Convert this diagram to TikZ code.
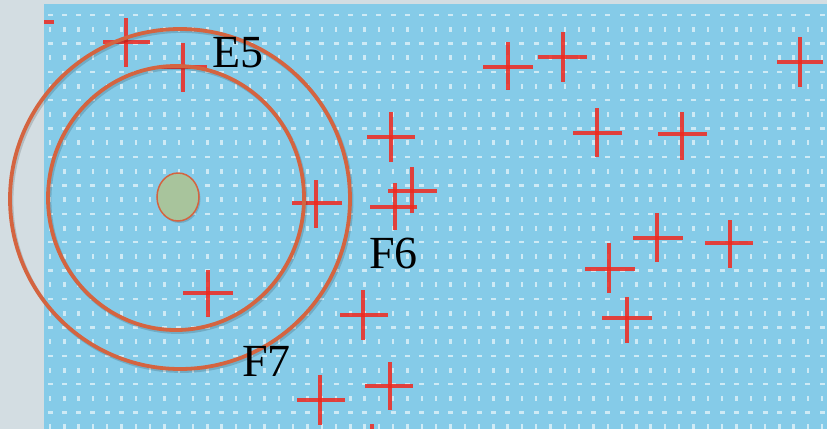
\documentclass[tikz,border=0pt]{standalone}
\usepackage{fontspec}
\setmainfont{Liberation Serif}
\usetikzlibrary{shapes.geometric}
\definecolor{bgblue}{RGB}{133,203,232}
\definecolor{greyside}{RGB}{211,221,226}
\definecolor{ringc}{RGB}{212,100,64}
\definecolor{dotgreen}{RGB}{168,196,156}
\definecolor{crossred}{RGB}{240,40,30}
\newcommand{\rcross}[6]{%
  \draw[crossline] (#1,#3) -- (#2,#3);
  \draw[crossline] (#4,#5) -- (#4,#6);}
\begin{document}
\begin{tikzpicture}[x=1pt,y=-1pt,
  ring/.style={draw=ringc,line width=3.8pt},
  ringshadow/.style={draw=black,opacity=0.15,line width=3.8pt},
  crossline/.style={draw=crossred,line width=4pt,opacity=0.85},
  griddot/.style={fill=white,opacity=0.6},
  lbl/.style={font=\fontsize{46}{46}\selectfont,inner sep=0pt,anchor=base west}]
\useasboundingbox (0,0) rectangle (827,429);
\fill[greyside] (0,0) rectangle (827,429);
\fill[bgblue] (44,4) rectangle (827,429);
% dotted white grid
\foreach \i in {0,...,54}{
  \foreach \k in {0,...,14}{
    \fill[griddot] ({50+14.3*\i-2.5},{15+28.4*\k-1.2}) rectangle ++(5,2.4);
    \fill[griddot] ({50+14.3*\i-1.2},{29.2+28.4*\k-2.5}) rectangle ++(2.4,5);
  }
}
% red crosses
\rcross{103}{150}{42}{126}{18}{67}
\rcross{160}{207}{67}{183}{43}{92}
\rcross{483}{533}{67}{508}{42}{90}
\rcross{538}{587}{57}{563}{32}{82}
\rcross{573}{622}{133}{597}{108}{157}
\rcross{658}{707}{134}{682}{112}{160}
\rcross{777}{823}{62}{800}{37}{87}
\rcross{633}{683}{238}{657}{213}{262}
\rcross{705}{753}{243}{730}{220}{268}
\rcross{585}{635}{269}{609}{243}{293}
\rcross{602}{652}{318}{627}{297}{343}
\rcross{292}{342}{203}{316}{180}{228}
\rcross{388}{437}{191}{412}{167}{213}
\rcross{370}{417}{207}{395}{183}{230}
\rcross{367}{415}{137}{391}{112}{162}
\rcross{183}{233}{293}{208}{270}{317}
\rcross{340}{388}{315}{363}{290}{340}
\rcross{365}{413}{386}{390}{362}{410}
\rcross{297}{345}{400}{320}{375}{425}
\draw[crossline] (44,22) -- (54,22);
\draw[crossline] (372,424) -- (372,429);
% rings
\draw[ringshadow] (181.5,201) circle[radius=170];
\draw[ringshadow] (177.5,200) ellipse[x radius=128,y radius=132];
\draw[ring] (180,199) circle[radius=170];
\draw[ring] (176,198) ellipse[x radius=128,y radius=132];
% centre point
\fill[black,opacity=0.15] (179.5,199) ellipse[x radius=21,y radius=24];
\node[draw=ringc,fill=dotgreen,line width=1.5pt,ellipse,minimum width=42pt,minimum height=48pt,inner sep=0pt] (dot) at (178,197) {};
% labels
\node[lbl] (e5) at (212,67) {E5};
\node[lbl] (f6) at (369,268) {F6};
\node[lbl] (f7) at (242,376) {F7};
\end{tikzpicture}
\end{document}
